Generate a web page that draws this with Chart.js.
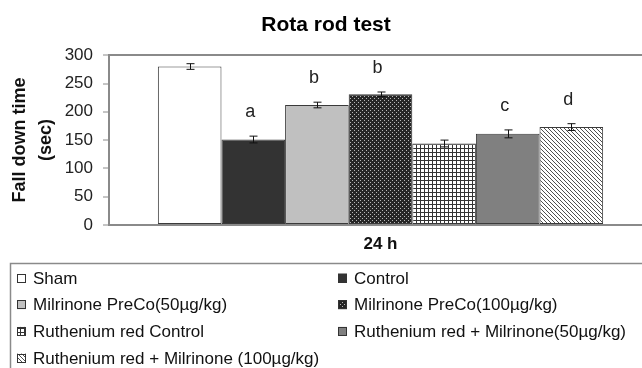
<!DOCTYPE html>
<html>
<head>
<meta charset="utf-8">
<script src="https://cdn.jsdelivr.net/npm/chart.js@4.4.1/dist/chart.umd.min.js"></script>
<style>
  html, body { margin: 0; padding: 0; background: #fff; overflow: hidden; }
  #wrap { width: 642px; height: 368px; overflow: hidden; }
</style>
</head>
<body>
<div id="wrap"><canvas id="rota" width="652" height="368"></canvas></div>
<script>
// data
var categories = ['24 h'];
var groups = [
  'Sham',
  'Control',
  'Milrinone PreCo(50\u00b5g/kg)',
  'Milrinone PreCo(100\u00b5g/kg)',
  'Ruthenium red Control',
  'Ruthenium red + Milrinone(50\u00b5g/kg)',
  'Ruthenium red + Milrinone (100\u00b5g/kg)'
];
var fallTimes = [280, 151, 212, 231, 144, 161, 173];
var fallErrors = [5, 6, 5, 4, 6, 7, 6];
var sigLetters = ['', 'a', 'b', 'b', '', 'c', 'd'];
var yMin = 0, yMax = 300, yStep = 50;

var FONT = '"Liberation Sans", Arial, sans-serif';

// little tiles for the hatched fills
function makePattern(bg, fg, cells, size) {
  var c = document.createElement('canvas');
  c.width = size; c.height = size;
  var g = c.getContext('2d');
  g.fillStyle = bg;
  g.fillRect(0, 0, size, size);
  g.fillStyle = fg;
  cells.forEach(function (p) { g.fillRect(p[0], p[1], 1, 1); });
  return g.createPattern(c, 'repeat');
}
var dots = makePattern('#262626', '#b8b8b8', [[0, 0], [2, 2]], 4);
var grid = makePattern('#ffffff', '#333333', [[0, 0], [1, 0], [2, 0], [3, 0], [0, 1], [0, 2], [0, 3]], 4);
var diag = makePattern('#ffffff', '#505050', [[0, 0], [1, 1], [2, 2], [3, 3]], 4);

var fills = ['#ffffff', '#333333', '#c0c0c0', dots, grid, '#808080', diag];

var datasets = groups.map(function (name, i) {
  return {
    label: name,
    data: [fallTimes[i]],
    backgroundColor: fills[i],
    borderColor: '#3a3a3a',
    borderWidth: 1,
    borderSkipped: false
  };
});

var errorBars = {
  id: 'errorBars',
  afterDatasetsDraw: function (chart) {
    var ctx = chart.ctx, y = chart.scales.y;
    ctx.save();
    ctx.strokeStyle = '#111';
    ctx.lineWidth = 1;
    ctx.fillStyle = '#222';
    ctx.font = '18px ' + FONT;
    ctx.textAlign = 'center';
    ctx.textBaseline = 'middle';
    groups.forEach(function (g, i) {
      var bar = chart.getDatasetMeta(i).data[0];
      var lo = y.getPixelForValue(fallTimes[i] - fallErrors[i]);
      var hi = y.getPixelForValue(fallTimes[i] + fallErrors[i]);
      var x = Math.round(bar.x) + 0.5;
      ctx.beginPath();
      ctx.moveTo(x, lo); ctx.lineTo(x, hi);
      ctx.moveTo(x - 4, lo); ctx.lineTo(x + 4, lo);
      ctx.moveTo(x - 4, hi); ctx.lineTo(x + 4, hi);
      ctx.stroke();
      if (sigLetters[i]) ctx.fillText(sigLetters[i], bar.x - 3, hi - 24);
    });
    ctx.restore();
  }
};

var boxLegend = {
  id: 'boxLegend',
  afterDraw: function (chart) {
    var ctx = chart.ctx;
    var top = chart.chartArea.bottom + 38;
    ctx.save();
    ctx.strokeStyle = '#8a8a8a';
    ctx.lineWidth = 1.5;
    ctx.strokeRect(10.5, top + 0.5, chart.width + 20, 200);
    ctx.font = '17px ' + FONT;
    ctx.textBaseline = 'middle';
    chart.data.datasets.forEach(function (ds, i) {
      var col = i % 2, row = Math.floor(i / 2);
      var x = col === 0 ? 17 : 338;
      var yc = top + 15 + row * 26.7;
      ctx.fillStyle = ds.backgroundColor;
      ctx.fillRect(x, yc - 4.5, 9, 9);
      ctx.strokeStyle = '#333';
      ctx.lineWidth = 1;
      ctx.strokeRect(x + 0.5, Math.round(yc - 4.5) + 0.5, 8, 8);
      ctx.fillStyle = '#111';
      ctx.fillText(ds.label, x + 16, yc + 1);
    });
    ctx.restore();
  }
};

var chart = new Chart(document.getElementById('rota').getContext('2d'), {
  type: 'bar',
  data: { labels: categories, datasets: datasets },
  plugins: [errorBars, boxLegend],
  options: {
    responsive: false,
    animation: false,
    layout: { padding: { top: 0, left: 0, right: 0, bottom: 105 } },
    datasets: { bar: { categoryPercentage: 0.82, barPercentage: 1.0 } },
    plugins: {
      legend: { display: false },
      tooltip: { enabled: false },
      title: {
        display: true,
        text: 'Rota rod test',
        color: '#000',
        font: { family: FONT, size: 21, weight: 'bold' },
        padding: { top: 13, bottom: 17 }
      }
    },
    scales: {
      x: {
        grid: { display: false, drawTicks: false },
        border: { display: true, color: '#8a8a8a', width: 2 },
        ticks: { color: '#111', padding: 9, font: { family: FONT, size: 17, weight: 'bold' } },
        afterFit: function (s) { s.height = 38; }
      },
      y: {
        min: yMin,
        max: yMax,
        ticks: { stepSize: yStep, color: '#222', padding: 10, font: { family: FONT, size: 17 } },
        grid: {
          color: function (c) { return c.tick && c.tick.value === yMax ? '#8a8a8a' : 'rgba(0,0,0,0)'; },
          lineWidth: 2,
          tickColor: '#8a8a8a',
          tickLength: 6,
          tickWidth: 1
        },
        border: { display: true, color: '#8a8a8a', width: 2 },
        title: {
          display: true,
          text: ['Fall down time', '(sec)'],
          color: '#111',
          font: { family: FONT, size: 18, weight: 'bold', lineHeight: 1.45 },
          padding: { top: 7, bottom: 0 }
        },
        afterFit: function (s) { s.width = 109; }
      }
    }
  }
});
</script>
</body>
</html>
